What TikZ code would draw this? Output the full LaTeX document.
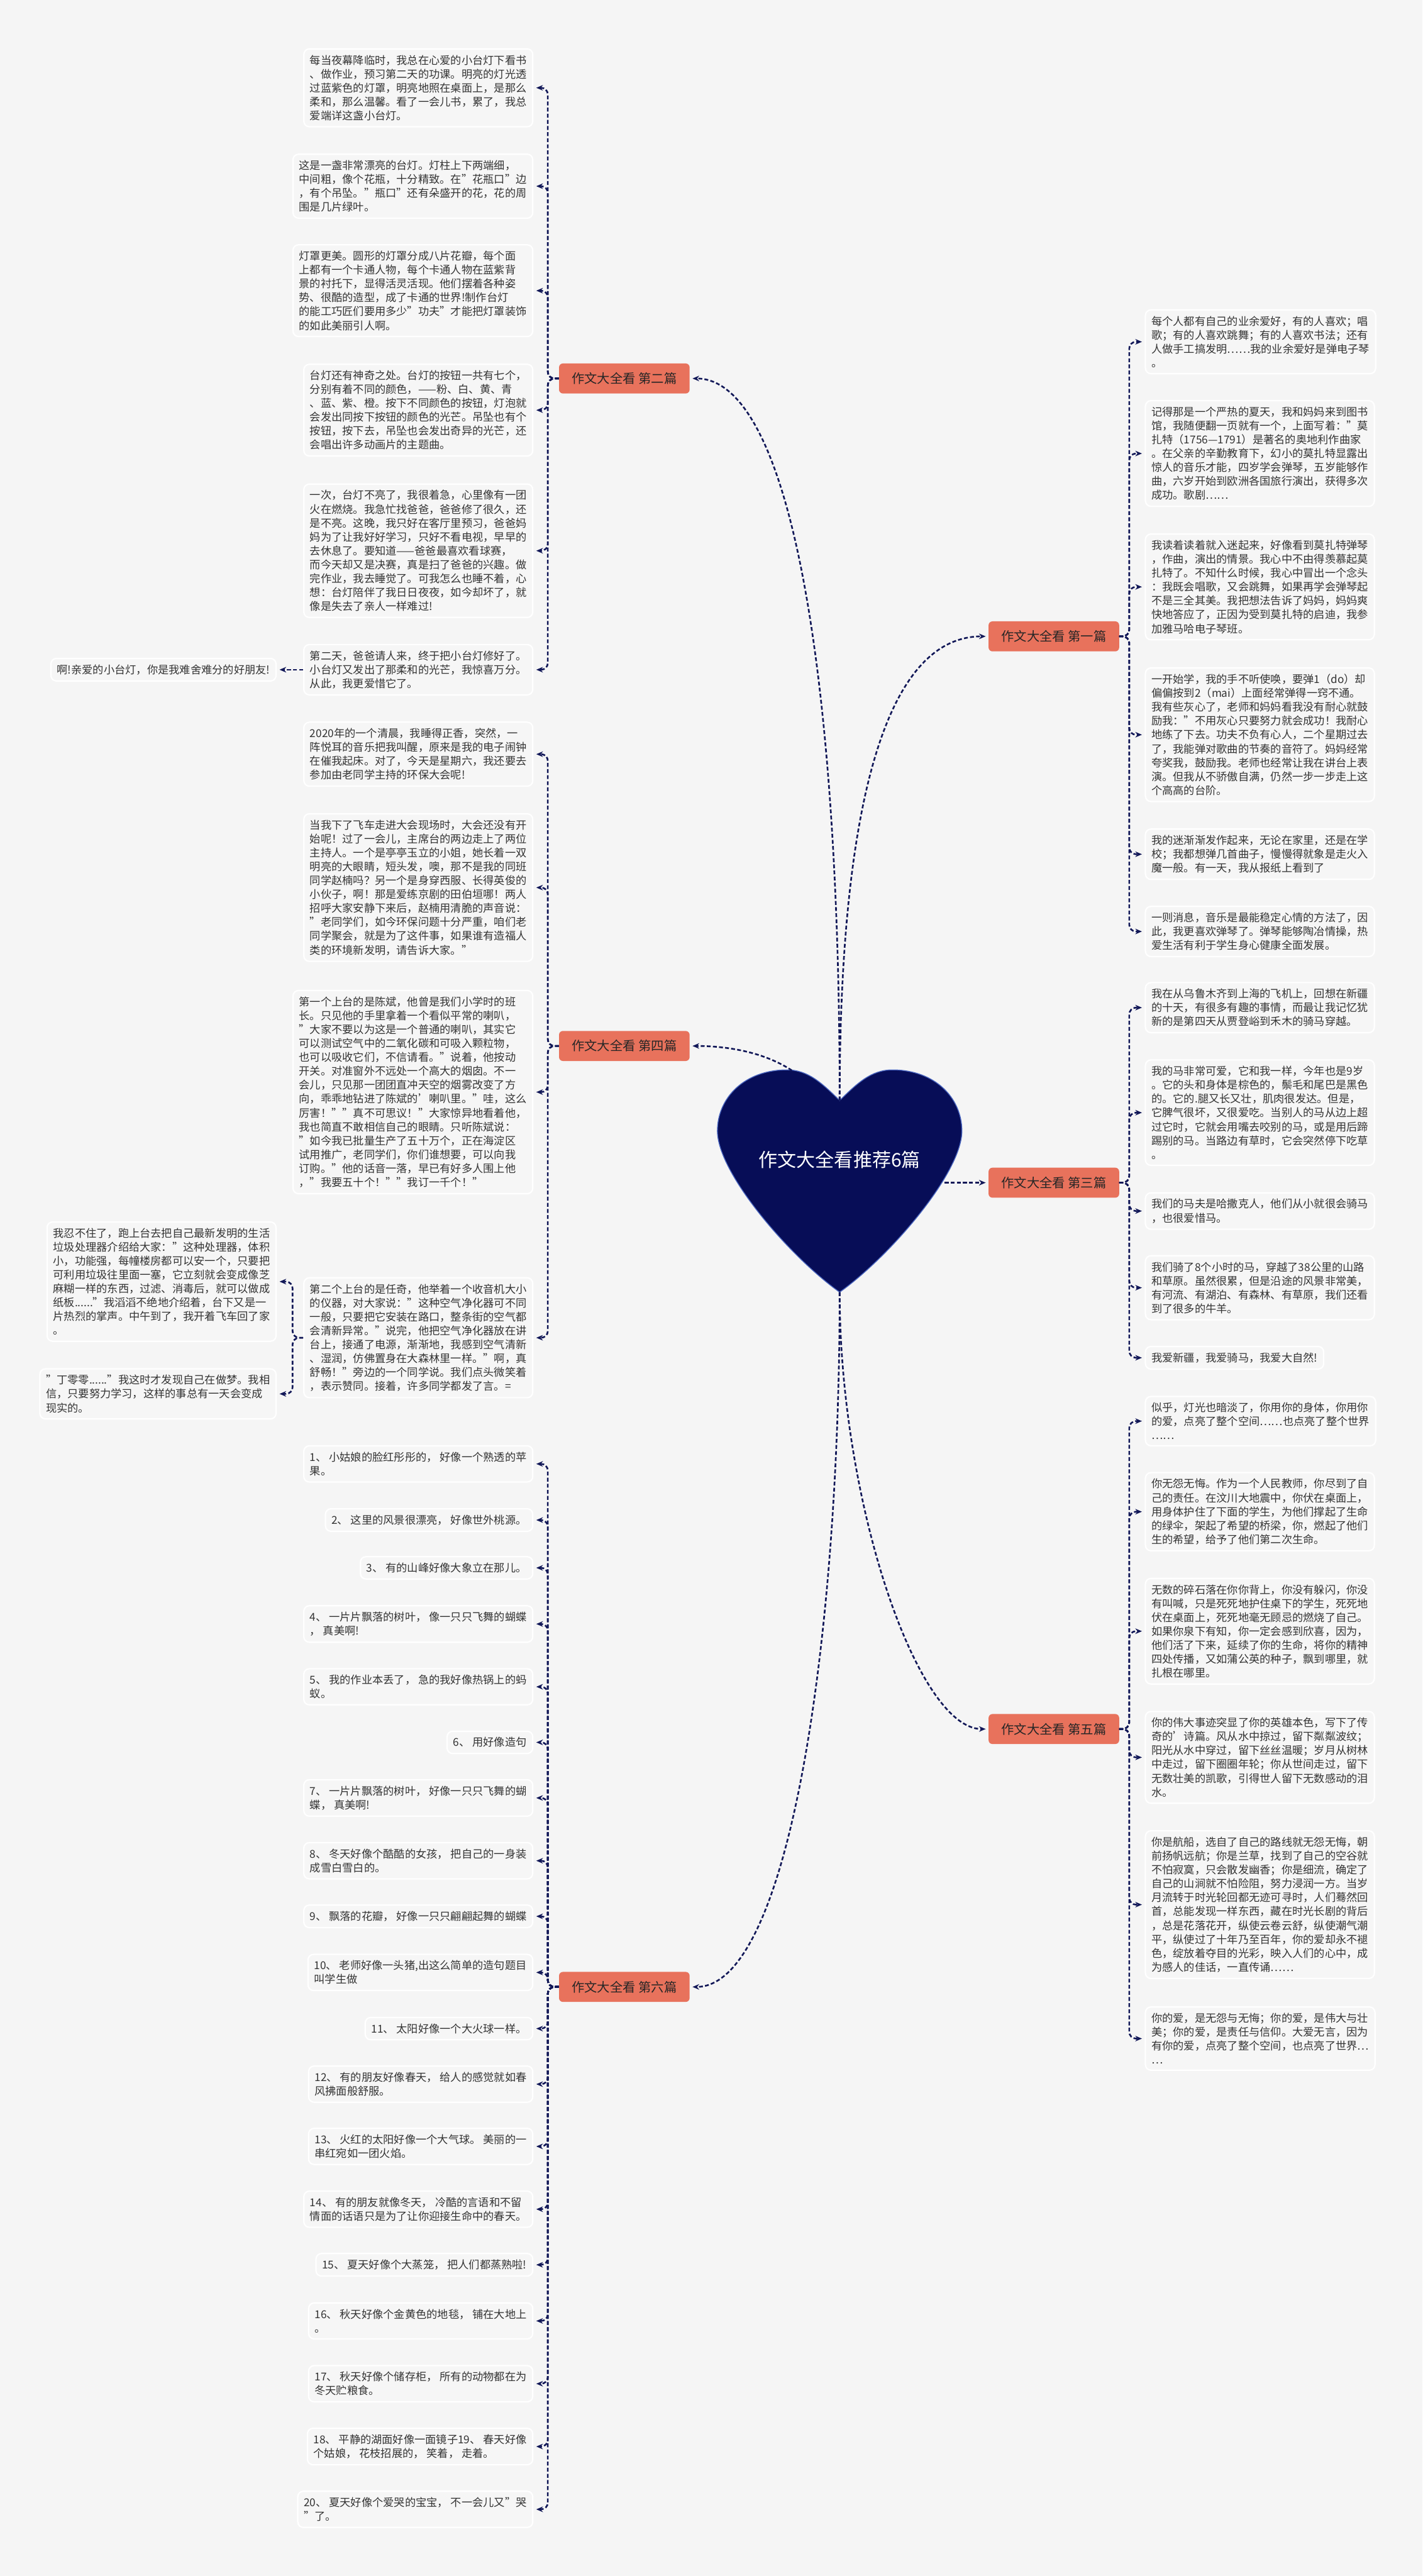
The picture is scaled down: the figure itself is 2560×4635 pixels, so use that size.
\documentclass[tikz,border=0pt]{standalone}
\usepackage{fontspec}
\setmainfont{Noto Sans CJK SC}
\usetikzlibrary{arrows.meta}
\definecolor{bgc}{HTML}{F5F5F5}
\definecolor{navy}{HTML}{070D57}
\definecolor{heartedge}{HTML}{4A66C0}
\definecolor{linec}{HTML}{121858}
\definecolor{coral}{HTML}{E8725C}
\definecolor{txt}{HTML}{333333}
\definecolor{boxc}{HTML}{F6F6F6}

\begin{document}
\begin{tikzpicture}[x=1pt, y=-1pt, >={Stealth[length=12pt,width=10pt]},
  leaf/.style={draw=white, line width=2.5pt, fill=boxc, rounded corners=10pt, align=left,
    inner xsep=11pt, inner ysep=11pt, text=txt, font=\fontsize{19.5}{25}\selectfont},
  leafL/.style={leaf, anchor=east},
  leafR/.style={leaf, anchor=west},
  branch/.style={fill=coral, rounded corners=7pt, minimum width=235pt, minimum height=54pt,
    inner sep=0pt, text=black!85, font=\fontsize{23}{28}\selectfont},
  conn/.style={->, draw=linec, line width=3pt, dash pattern=on 7pt off 4pt,
    shorten >=5pt, rounded corners=12pt}]
\fill[bgc] (0,0) rectangle (2560,4635);
\useasboundingbox (0,0) rectangle (2560,4635);

% heart in the middle
\coordinate (notch) at (1511,1980); \coordinate (tip) at (1511,2325);
\coordinate (lobeL) at (1425,1926); \coordinate (sideR) at (1700,2128);
\filldraw[fill=navy, draw=heartedge, line width=1.5pt] (notch)
  .. controls (1480,1950) and (1455,1925) .. (1416,1925)
  .. controls (1340,1925) and (1291,1975) .. (1291,2035)
  .. controls (1291,2110) and (1420,2260) .. (tip)
  .. controls (1602,2260) and (1731,2110) .. (1731,2035)
  .. controls (1731,1975) and (1682,1925) .. (1606,1925)
  .. controls (1567,1925) and (1542,1950) .. (notch) -- cycle;
\node[text=white, font=\fontsize{34}{40}\selectfont] (hub) at (1511,2087) {作文大全看推荐6篇};

% branches
\node[branch] (b1) at (1896.5,1145) {作文大全看 第一篇};
\node[branch] (b2) at (1123.5,681) {作文大全看 第二篇};
\node[branch] (b3) at (1896.5,2128) {作文大全看 第三篇};
\node[branch] (b4) at (1123.5,1882) {作文大全看 第四篇};
\node[branch] (b5) at (1896.5,3111) {作文大全看 第五篇};
\node[branch] (b6) at (1123.5,3575) {作文大全看 第六篇};

\draw[conn] (notch) .. controls (1511,1200) and (1420,681) .. (b2.east);
\draw[conn] (notch) .. controls (1511,1500) and (1580,1145) .. (b1.west);
\draw[conn] (lobeL) .. controls (1370,1890) and (1300,1882) .. (b4.east);
\draw[conn] (sideR) -- (b3.west);
\draw[conn] (tip) .. controls (1511,2950) and (1420,3575) .. (b6.east);
\draw[conn] (tip) .. controls (1511,2700) and (1650,3111) .. (b5.west);

% second
\node[leafL] (l2a) at (960,158) {每当夜幕降临时，我总在心爱的小台灯下看书\\、做作业，预习第二天的功课。明亮的灯光透\\过蓝紫色的灯罩，明亮地照在桌面上，是那么\\柔和，那么温馨。看了一会儿书，累了，我总\\爱端详这盏小台灯。};
\node[leafL] (l2b) at (960,335) {这是一盏非常漂亮的台灯。灯柱上下两端细，\\中间粗，像个花瓶，十分精致。在"花瓶口"边\\，有个吊坠。"瓶口"还有朵盛开的花，花的周\\围是几片绿叶。};
\node[leafL] (l2c) at (960,523) {灯罩更美。圆形的灯罩分成八片花瓣，每个面\\上都有一个卡通人物，每个卡通人物在蓝紫背\\景的衬托下，显得活灵活现。他们摆着各种姿\\势、很酷的造型，成了卡通的世界!制作台灯\\的能工巧匠们要用多少"功夫"才能把灯罩装饰\\的如此美丽引人啊。};
\node[leafL] (l2d) at (960,738) {台灯还有神奇之处。台灯的按钮一共有七个，\\分别有着不同的颜色，——粉、白、黄、青\\、蓝、紫、橙。按下不同颜色的按钮，灯泡就\\会发出同按下按钮的颜色的光芒。吊坠也有个\\按钮，按下去，吊坠也会发出奇异的光芒，还\\会唱出许多动画片的主题曲。};
\node[leafL] (l2e) at (960,991) {一次，台灯不亮了，我很着急，心里像有一团\\火在燃烧。我急忙找爸爸，爸爸修了很久，还\\是不亮。这晚，我只好在客厅里预习，爸爸妈\\妈为了让我好好学习，只好不看电视，早早的\\去休息了。要知道——爸爸最喜欢看球赛，\\而今天却又是决赛，真是扫了爸爸的兴趣。做\\完作业，我去睡觉了。可我怎么也睡不着，心\\想：台灯陪伴了我日日夜夜，如今却坏了，就\\像是失去了亲人一样难过!};
\node[leafL] (l2f) at (960,1205) {第二天，爸爸请人来，终于把小台灯修好了。\\小台灯又发出了那柔和的光芒，我惊喜万分。\\从此，我更爱惜它了。};
\node[leafL] (l2g) at (498,1205) {啊!亲爱的小台灯，你是我难舍难分的好朋友!};
\foreach \c in {l2a,l2b,l2c,l2d,l2e,l2f}
  {\draw[conn] (b2.west) -- ++(-20,0) |- (\c.east);}
\draw[conn] (l2f.west) -- (l2g.east);

% fourth
\node[leafL] (l4a) at (960,1357) {2020年的一个清晨，我睡得正香，突然，一\\阵悦耳的音乐把我叫醒，原来是我的电子闹钟\\在催我起床。对了，今天是星期六，我还要去\\参加由老同学主持的环保大会呢!};
\node[leafL] (l4b) at (960,1597) {当我下了飞车走进大会现场时，大会还没有开\\始呢！过了一会儿，主席台的两边走上了两位\\主持人。一个是亭亭玉立的小姐，她长着一双\\明亮的大眼睛，短头发，噢，那不是我的同班\\同学赵楠吗？另一个是身穿西服、长得英俊的\\小伙子，啊！那是爱练京剧的田伯垣哪！两人\\招呼大家安静下来后，赵楠用清脆的声音说：\\"老同学们，如今环保问题十分严重，咱们老\\同学聚会，就是为了这件事，如果谁有造福人\\类的环境新发明，请告诉大家。"};
\node[leafL] (l4c) at (960,1965) {第一个上台的是陈斌，他曾是我们小学时的班\\长。只见他的手里拿着一个看似平常的喇叭，\\"大家不要以为这是一个普通的喇叭，其实它\\可以测试空气中的二氧化碳和可吸入颗粒物，\\也可以吸收它们，不信请看。"说着，他按动\\开关。对准窗外不远处一个高大的烟囱。不一\\会儿，只见那一团团直冲天空的烟雾改变了方\\向，乖乖地钻进了陈斌的'喇叭里。"哇，这么\\厉害！""真不可思议！"大家惊异地看着他，\\我也简直不敢相信自己的眼睛。只听陈斌说：\\"如今我已批量生产了五十万个，正在海淀区\\试用推广，老同学们，你们谁想要，可以向我\\订购。"他的话音一落，早已有好多人围上他\\，"我要五十个！""我订一千个！"};
\node[leafL] (l4d) at (960,2407) {第二个上台的是任奇，他举着一个收音机大小\\的仪器，对大家说："这种空气净化器可不同\\一般，只要把它安装在路口，整条街的空气都\\会清新异常。"说完，他把空气净化器放在讲\\台上，接通了电源，渐渐地，我感到空气清新\\、湿润，仿佛置身在大森林里一样。"啊，真\\舒畅！"旁边的一个同学说。我们点头微笑着\\，表示赞同。接着，许多同学都发了言。=};
\node[leafL] (l4e) at (498,2306) {我忍不住了，跑上台去把自己最新发明的生活\\垃圾处理器介绍给大家："这种处理器，体积\\小，功能强，每幢楼房都可以安一个，只要把\\可利用垃圾往里面一塞，它立刻就会变成像芝\\麻糊一样的东西，过滤、消毒后，就可以做成\\纸板......"我滔滔不绝地介绍着，台下又是一\\片热烈的掌声。中午到了，我开着飞车回了家\\。};
\node[leafL] (l4f) at (498,2508) {"丁零零......"我这时才发现自己在做梦。我相\\信，只要努力学习，这样的事总有一天会变成\\现实的。};
\foreach \c in {l4a,l4b,l4c,l4d}
  {\draw[conn] (b4.west) -- ++(-20,0) |- (\c.east);}
\foreach \c in {l4e,l4f}
  {\draw[conn] (l4d.west) -- ++(-19,0) |- (\c.east);}

% sixth
\node[leafL] (q1) at (960,2634) {1、 小姑娘的脸红彤彤的， 好像一个熟透的苹\\果。};
\node[leafL] (q2) at (960,2735) {2、 这里的风景很漂亮， 好像世外桃源。};
\node[leafL] (q3) at (960,2821) {3、 有的山峰好像大象立在那儿。};
\node[leafL] (q4) at (960,2922) {4、 一片片飘落的树叶， 像一只只飞舞的蝴蝶\\， 真美啊!};
\node[leafL] (q5) at (960,3035) {5、 我的作业本丢了， 急的我好像热锅上的蚂\\蚁。};
\node[leafL] (q6) at (960,3135) {6、 用好像造句};
\node[leafL] (q7) at (960,3235) {7、 一片片飘落的树叶， 好像一只只飞舞的蝴\\蝶， 真美啊!};
\node[leafL] (q8) at (960,3348) {8、 冬天好像个酷酷的女孩， 把自己的一身装\\成雪白雪白的。};
\node[leafL] (q9) at (960,3448) {9、 飘落的花瓣， 好像一只只翩翩起舞的蝴蝶};
\node[leafL] (q10) at (960,3549) {10、 老师好像一头猪,出这么简单的造句题目\\叫学生做};
\node[leafL] (q11) at (960,3650) {11、 太阳好像一个大火球一样。};
\node[leafL] (q12) at (960,3750) {12、 有的朋友好像春天， 给人的感觉就如春\\风拂面般舒服。};
\node[leafL] (q13) at (960,3862) {13、 火红的太阳好像一个大气球。 美丽的一\\串红宛如一团火焰。};
\node[leafL] (q14) at (960,3975) {14、 有的朋友就像冬天， 冷酷的言语和不留\\情面的话语只是为了让你迎接生命中的春天。};
\node[leafL] (q15) at (960,4075) {15、 夏天好像个大蒸笼， 把人们都蒸熟啦!};
\node[leafL] (q16) at (960,4176) {16、 秋天好像个金黄色的地毯， 铺在大地上\\。};
\node[leafL] (q17) at (960,4289) {17、 秋天好像个储存柜， 所有的动物都在为\\冬天贮粮食。};
\node[leafL] (q18) at (960,4402) {18、 平静的湖面好像一面镜子19、 春天好像\\个姑娘， 花枝招展的， 笑着， 走着。};
\node[leafL] (q19) at (960,4515) {20、 夏天好像个爱哭的宝宝， 不一会儿又"哭\\"了。};
\foreach \i in {1,...,19}
  {\draw[conn] (b6.west) -- ++(-20,0) |- (q\i.east);}

% first
\node[leafR] (r1a) at (2060,615) {每个人都有自己的业余爱好，有的人喜欢；唱\\歌；有的人喜欢跳舞；有的人喜欢书法；还有\\人做手工搞发明……我的业余爱好是弹电子琴\\。};
\node[leafR] (r1b) at (2060,816) {记得那是一个严热的夏天，我和妈妈来到图书\\馆，我随便翻一页就有一个，上面写着："莫\\扎特（1756—1791）是著名的奥地利作曲家\\。在父亲的辛勤教育下，幻小的莫扎特显露出\\惊人的音乐才能，四岁学会弹琴，五岁能够作\\曲，六岁开始到欧洲各国旅行演出，获得多次\\成功。歌剧……};
\node[leafR] (r1c) at (2060,1056) {我读着读着就入迷起来，好像看到莫扎特弹琴\\，作曲，演出的情景。我心中不由得羡慕起莫\\扎特了。不知什么时候，我心中冒出一个念头\\：我既会唱歌，又会跳舞，如果再学会弹琴起\\不是三全其美。我把想法告诉了妈妈，妈妈爽\\快地答应了，正因为受到莫扎特的启迪，我参\\加雅马哈电子琴班。};
\node[leafR] (r1d) at (2060,1322) {一开始学，我的手不听使唤，要弹1（do）却\\偏偏按到2（mai）上面经常弹得一窍不通。\\我有些灰心了，老师和妈妈看我没有耐心就鼓\\励我："不用灰心只要努力就会成功！我耐心\\地练了下去。功夫不负有心人，二个星期过去\\了，我能弹对歌曲的节奏的音符了。妈妈经常\\夸奖我，鼓励我。老师也经常让我在讲台上表\\演。但我从不骄傲自满，仍然一步一步走上这\\个高高的台阶。};
\node[leafR] (r1e) at (2060,1537) {我的迷渐渐发作起来，无论在家里，还是在学\\校；我都想弹几首曲子，慢慢得就象是走火入\\魔一般。有一天，我从报纸上看到了};
\node[leafR] (r1f) at (2060,1676) {一则消息，音乐是最能稳定心情的方法了，因\\此，我更喜欢弹琴了。弹琴能够陶冶情操，热\\爱生活有利于学生身心健康全面发展。};
\foreach \c in {r1a,r1b,r1c,r1d,r1e,r1f}
  {\draw[conn] (b1.east) -- ++(18,0) |- (\c.west);}

% third
\node[leafR] (r3a) at (2060,1813) {我在从乌鲁木齐到上海的飞机上，回想在新疆\\的十天，有很多有趣的事情，而最让我记忆犹\\新的是第四天从贾登峪到禾木的骑马穿越。};
\node[leafR] (r3b) at (2060,2002) {我的马非常可爱，它和我一样，今年也是9岁\\。它的头和身体是棕色的，鬃毛和尾巴是黑色\\的。它的.腿又长又壮，肌肉很发达。但是，\\它脾气很坏，又很爱吃。当别人的马从边上超\\过它时，它就会用嘴去咬别的马，或是用后蹄\\踢别的马。当路边有草时，它会突然停下吃草\\。};
\node[leafR] (r3c) at (2060,2179) {我们的马夫是哈撒克人，他们从小就很会骑马\\，也很爱惜马。};
\node[leafR] (r3d) at (2060,2317) {我们骑了8个小时的马，穿越了38公里的山路\\和草原。虽然很累，但是沿途的风景非常美，\\有河流、有湖泊、有森林、有草原，我们还看\\到了很多的牛羊。};
\node[leafR] (r3e) at (2060,2443) {我爱新疆，我爱骑马，我爱大自然!};
\foreach \c in {r3a,r3b,r3c,r3d,r3e}
  {\draw[conn] (b3.east) -- ++(18,0) |- (\c.west);}

% fifth
\node[leafR] (r5a) at (2060,2557) {似乎，灯光也暗淡了，你用你的身体，你用你\\的爱，点亮了整个空间……也点亮了整个世界\\……};
\node[leafR] (r5b) at (2060,2720) {你无怨无悔。作为一个人民教师，你尽到了自\\己的责任。在汶川大地震中，你伏在桌面上，\\用身体护住了下面的学生，为他们撑起了生命\\的绿伞，架起了希望的桥梁，你，燃起了他们\\生的希望，给予了他们第二次生命。};
\node[leafR] (r5c) at (2060,2935) {无数的碎石落在你你背上，你没有躲闪，你没\\有叫喊，只是死死地护住桌下的学生，死死地\\伏在桌面上，死死地毫无顾忌的燃烧了自己。\\如果你泉下有知，你一定会感到欣喜，因为，\\他们活了下来，延续了你的生命，将你的精神\\四处传播，又如蒲公英的种子，飘到哪里，就\\扎根在哪里。};
\node[leafR] (r5d) at (2060,3162) {你的伟大事迹突显了你的英雄本色，写下了传\\奇的'诗篇。风从水中掠过，留下粼粼波纹；\\阳光从水中穿过，留下丝丝温暖；岁月从树林\\中走过，留下圈圈年轮；你从世间走过，留下\\无数壮美的凯歌，引得世人留下无数感动的泪\\水。};
\node[leafR] (r5e) at (2060,3427) {你是航船，选自了自己的路线就无怨无悔，朝\\前扬帆远航；你是兰草，找到了自己的空谷就\\不怕寂寞，只会散发幽香；你是细流，确定了\\自己的山涧就不怕险阻，努力浸润一方。当岁\\月流转于时光轮回都无迹可寻时，人们蓦然回\\首，总能发现一样东西，藏在时光长剧的背后\\，总是花落花开，纵使云卷云舒，纵使潮气潮\\平，纵使过了十年乃至百年，你的爱却永不褪\\色，绽放着夺目的光彩，映入人们的心中，成\\为感人的佳话，一直传诵……};
\node[leafR] (r5f) at (2060,3668) {你的爱，是无怨与无悔；你的爱，是伟大与壮\\美；你的爱，是责任与信仰。大爱无言，因为\\有你的爱，点亮了整个空间，也点亮了世界…\\…};
\foreach \c in {r5a,r5b,r5c,r5d,r5e,r5f}
  {\draw[conn] (b5.east) -- ++(18,0) |- (\c.west);}
\end{tikzpicture}
\end{document}
